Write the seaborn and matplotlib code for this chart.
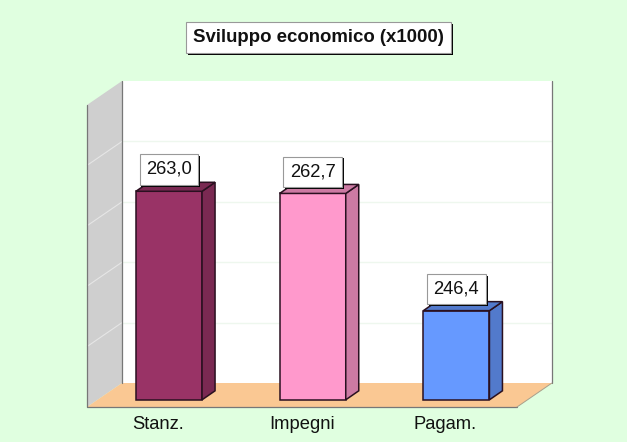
import matplotlib
matplotlib.use('Agg')
import matplotlib.pyplot as plt
import matplotlib.patheffects as pe
from matplotlib.patches import Polygon
from matplotlib.transforms import Affine2D, ScaledTranslation
import seaborn as sns

categories = ['Stanz.', 'Impegni', 'Pagam.']
values = [263.0, 262.7, 246.4]
value_labels = ['263,0', '262,7', '246,4']
front_colors = ['#993366', '#FF99CC', '#6699FF']
side_colors = ['#7A2952', '#CC7AA3', '#527ACC']
grid_values = [241.4, 249.8, 258.2, 266.6]
title = 'Sviluppo economico (x1000)'

W, H = 627, 442
BG = '#E0FFE0'
bar_base = 234
y_min, y_max = 233, 275
depth_x, depth_y = 35, 24
bar_dx, bar_dy = 13, 9
font = ['Liberation Sans', 'DejaVu Sans']

sns.set_theme(style='white')
plt.rcParams['font.family'] = font

fig = plt.figure(figsize=(W / 100, H / 100), dpi=100, facecolor=BG)
ax = fig.add_axes([87 / W, (H - 407) / H, 430 / W, 302 / H])
ax.patch.set_visible(False)

sns.barplot(x=categories, y=values, hue=categories, palette=front_colors, saturation=1,
            width=0.46, legend=False, edgecolor='#2a1020', linewidth=1.1, ax=ax)

ax.set_xlim(-0.5706, 2.4217)
ax.set_ylim(y_min, y_max)
sns.despine(ax=ax, left=True, bottom=True, top=True, right=True)
ax.set_yticks([])
ax.set_xlabel('')
ax.set_ylabel('')
ax.tick_params(axis='x', length=0, pad=6.5, labelsize=13.2, labelcolor='#111111')
for lab in ax.get_xticklabels():
    lab.set_transform(lab.get_transform() + ScaledTranslation(-8 / 72, 0, fig.dpi_scale_trans))

pix = Affine2D().scale(1, -1).translate(0, H)
back = ax.transData + Affine2D().translate(depth_x, depth_y)


def face(points, color, edge='none', lw=0, z=0.5):
    ax.add_patch(Polygon(points, closed=True, facecolor=color, edgecolor=edge, linewidth=lw,
                         transform=pix, clip_on=False, zorder=z))


# walls and floor
face([(122, 81), (552, 81), (552, 383), (122, 383)], 'white')
face([(87, 105), (122, 81), (122, 383), (87, 407)], '#CFCFCF')
face([(87, 407), (517, 407), (552, 383), (122, 383)], '#FAC893')

x0, x1 = ax.get_xlim()
for v in grid_values:
    ax.plot([x0, x1], [v, v], color='#EEF7EE', lw=1, transform=back, clip_on=False, zorder=0.6)
    left = ax.transData.transform([(x0, v)])[0]
    ax.plot([left[0], left[0] + depth_x], [left[1], left[1] + depth_y], color='#E6E6E6', lw=0.8,
            transform=None, clip_on=False, zorder=0.6)

for pts in [[(87, 105), (87, 407), (517, 407)], [(552, 81), (552, 383)],
            [(122, 81), (122, 383)]]:
    xs, ys = zip(*pts)
    ax.plot(xs, ys, color='#777777', lw=0.9, transform=pix, clip_on=False, zorder=0.7)
ax.plot([517, 552], [407, 383], color='#A8A08C', lw=0.7, transform=pix, clip_on=False, zorder=0.7)

# bars start above the axis floor, side and top faces added in display units
for i, bar in enumerate(ax.patches[:3]):
    bar.set_y(bar_base)
    bar.set_height(values[i] - bar_base)
    bar.set_zorder(2)
    left, right = bar.get_x(), bar.get_x() + bar.get_width()
    (lx, by), (rx, ty) = ax.transData.transform([(left, bar_base), (right, values[i])])
    to_px = lambda a, b: (a, H - b)
    side = [(rx, by), (rx + bar_dx, by + bar_dy), (rx + bar_dx, ty + bar_dy), (rx, ty)]
    top = [(lx, ty), (lx + bar_dx, ty + bar_dy), (rx + bar_dx, ty + bar_dy), (rx, ty)]
    face([to_px(*p) for p in side], side_colors[i], edge='#2a1020', lw=1.1, z=2.5)
    face([to_px(*p) for p in top], side_colors[i], edge='#2a1020', lw=1.1, z=2.5)
    t = ax.annotate(value_labels[i], xy=((left + right) / 2, values[i]), xytext=(0, 15.7),
                    textcoords='offset points', ha='center', va='center', fontsize=13.2,
                    color='#111111', zorder=5,
                    bbox=dict(boxstyle='square,pad=0.36', fc='white', ec='#999999', lw=0.8))
    t.get_bbox_patch().set_path_effects([pe.withSimplePatchShadow(offset=(1.4, -1.4), shadow_rgbFace='black', alpha=1)])

tt = fig.text(318.5 / W, (H - 37.5) / H, title, ha='center', va='center', fontsize=13.4,
              fontweight='bold', color='#111111',
              bbox=dict(boxstyle='square,pad=0.37', fc='white', ec='#999999', lw=0.8))
tt.get_bbox_patch().set_path_effects([pe.withSimplePatchShadow(offset=(1.6, -1.6), shadow_rgbFace='black', alpha=1)])

fig.savefig('out.png', dpi=100, facecolor=BG)
